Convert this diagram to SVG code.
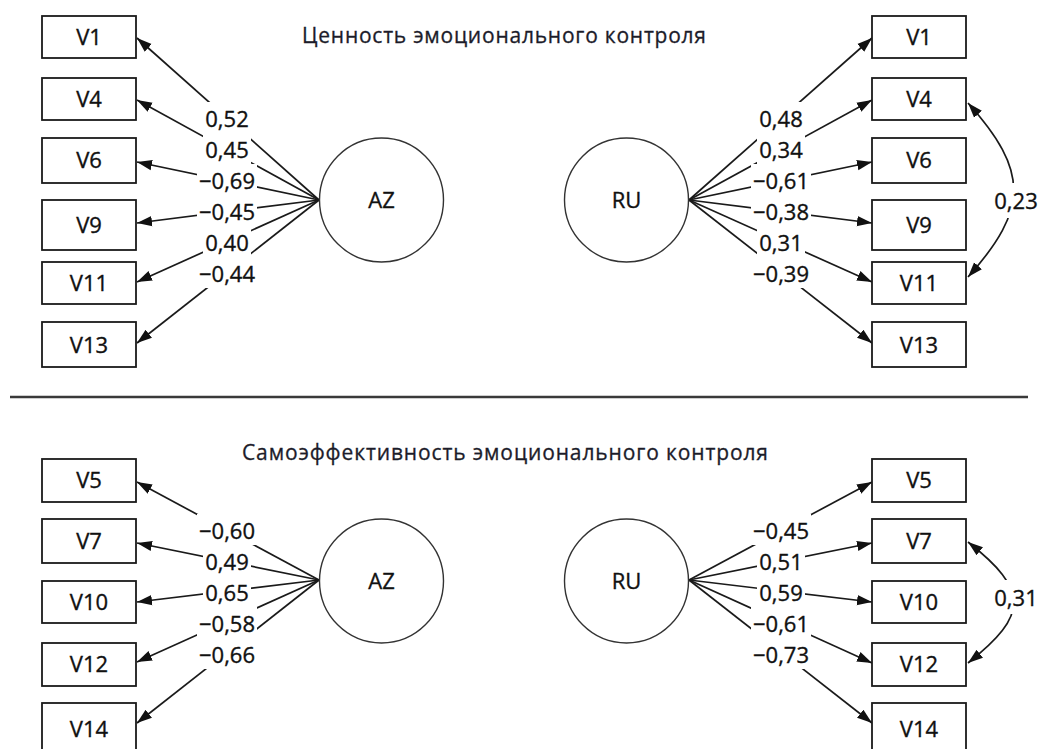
<svg xmlns="http://www.w3.org/2000/svg" width="1041" height="749" viewBox="0 0 1041 749">
<style>
  .box{fill:#fff;stroke:#1a1a1a;stroke-width:1.8}
  .lat{fill:#fff;stroke:#333;stroke-width:1.4}
  .t{font-family:"Open Sans","Noto Sans","Liberation Sans",sans-serif;font-size:22px;fill:#111;stroke:#111;stroke-width:0.35;text-anchor:middle}
  .title{font-family:"Open Sans","Noto Sans","Liberation Sans",sans-serif;font-size:21px;fill:#1c1c2a;stroke:#1c1c2a;stroke-width:0.3;text-anchor:middle}
  .c{stroke:#1a1a1a;stroke-width:1.7;fill:none;marker-end:url(#ah)}
  .cov{stroke:#1a1a1a;stroke-width:1.7;fill:none;marker-end:url(#ah);marker-start:url(#ahs)}
  .bg{fill:#fff}
</style>
<defs>
  <marker id="ah" markerUnits="userSpaceOnUse" markerWidth="16" markerHeight="12" viewBox="0 0 16 12" refX="15" refY="6" orient="auto">
    <path d="M0,0.8 L15,6 L0,11.2 z" fill="#111"/>
  </marker>
  <marker id="ahs" markerUnits="userSpaceOnUse" markerWidth="16" markerHeight="12" viewBox="0 0 16 12" refX="15" refY="6" orient="auto-start-reverse">
    <path d="M0,0.8 L15,6 L0,11.2 z" fill="#111"/>
  </marker>
</defs>
<rect width="1041" height="749" fill="#fff"/>

<text class="title" x="504" y="43" textLength="404" lengthAdjust="spacing">Ценность эмоционального контроля</text>
<text class="title" x="505" y="460" textLength="526" lengthAdjust="spacing">Самоэффективность эмоционального контроля</text>
<line x1="10" y1="397" x2="1028" y2="397" stroke="#3a3a3a" stroke-width="2.5"/>

<g id="connectors">
  <line class="c" x1="319" y1="200" x2="137" y2="38"/>
  <line class="c" x1="319" y1="200" x2="137" y2="100"/>
  <line class="c" x1="319" y1="200" x2="137" y2="162"/>
  <line class="c" x1="319" y1="200" x2="137" y2="223"/>
  <line class="c" x1="319" y1="200" x2="137" y2="282"/>
  <line class="c" x1="319" y1="200" x2="137" y2="343"/>

  <line class="c" x1="689" y1="200" x2="872" y2="38"/>
  <line class="c" x1="689" y1="200" x2="872" y2="100"/>
  <line class="c" x1="689" y1="200" x2="872" y2="162"/>
  <line class="c" x1="689" y1="200" x2="872" y2="223"/>
  <line class="c" x1="689" y1="200" x2="872" y2="282"/>
  <line class="c" x1="689" y1="200" x2="872" y2="343"/>
  <path class="cov" d="M968,103 C1029,171 1029,209 968,277"/>

  <line class="c" x1="319" y1="580" x2="137" y2="482"/>
  <line class="c" x1="319" y1="580" x2="137" y2="543"/>
  <line class="c" x1="319" y1="580" x2="137" y2="602"/>
  <line class="c" x1="319" y1="580" x2="137" y2="662"/>
  <line class="c" x1="319" y1="580" x2="137" y2="723"/>

  <line class="c" x1="689" y1="580" x2="872" y2="482"/>
  <line class="c" x1="689" y1="580" x2="872" y2="543"/>
  <line class="c" x1="689" y1="580" x2="872" y2="602"/>
  <line class="c" x1="689" y1="580" x2="872" y2="663"/>
  <line class="c" x1="689" y1="580" x2="872" y2="723"/>
  <path class="cov" d="M968,542 C1029,590 1029,615 968,663"/>
</g>

<g id="labels">
  <rect class="bg" x="203" y="102" width="48" height="31"/><text class="t" x="227" y="127">0,52</text>
  <rect class="bg" x="203" y="133" width="48" height="31"/><text class="t" x="227" y="158">0,45</text>
  <rect class="bg" x="197" y="164" width="60" height="31"/><text class="t" x="227" y="189">−0,69</text>
  <rect class="bg" x="197" y="195" width="60" height="31"/><text class="t" x="227" y="220">−0,45</text>
  <rect class="bg" x="203" y="226" width="48" height="31"/><text class="t" x="227" y="251">0,40</text>
  <rect class="bg" x="197" y="257" width="60" height="31"/><text class="t" x="227" y="282">−0,44</text>

  <rect class="bg" x="757" y="102" width="48" height="31"/><text class="t" x="781" y="127">0,48</text>
  <rect class="bg" x="757" y="133" width="48" height="31"/><text class="t" x="781" y="158">0,34</text>
  <rect class="bg" x="751" y="164" width="60" height="31"/><text class="t" x="781" y="189">−0,61</text>
  <rect class="bg" x="751" y="195" width="60" height="31"/><text class="t" x="781" y="220">−0,38</text>
  <rect class="bg" x="757" y="226" width="48" height="31"/><text class="t" x="781" y="251">0,31</text>
  <rect class="bg" x="751" y="257" width="60" height="31"/><text class="t" x="781" y="282">−0,39</text>
  <rect class="bg" x="991" y="183" width="50" height="35"/><text class="t" x="1016" y="209">0,23</text>

  <rect class="bg" x="197" y="514" width="60" height="31"/><text class="t" x="227" y="539">−0,60</text>
  <rect class="bg" x="203" y="545" width="48" height="31"/><text class="t" x="227" y="570">0,49</text>
  <rect class="bg" x="203" y="576" width="48" height="31"/><text class="t" x="227" y="601">0,65</text>
  <rect class="bg" x="197" y="607" width="60" height="31"/><text class="t" x="227" y="632">−0,58</text>
  <rect class="bg" x="197" y="638" width="60" height="31"/><text class="t" x="227" y="663">−0,66</text>

  <rect class="bg" x="751" y="514" width="60" height="31"/><text class="t" x="781" y="539">−0,45</text>
  <rect class="bg" x="757" y="545" width="48" height="31"/><text class="t" x="781" y="570">0,51</text>
  <rect class="bg" x="757" y="576" width="48" height="31"/><text class="t" x="781" y="601">0,59</text>
  <rect class="bg" x="751" y="607" width="60" height="31"/><text class="t" x="781" y="632">−0,61</text>
  <rect class="bg" x="751" y="638" width="60" height="31"/><text class="t" x="781" y="663">−0,73</text>
  <rect class="bg" x="991" y="580" width="50" height="34"/><text class="t" x="1016" y="606">0,31</text>
</g>

<g id="AZ1"><circle class="lat" cx="381.5" cy="200" r="62"/><text class="t" x="381.5" y="208">AZ</text></g>
<g id="RU1"><circle class="lat" cx="626.5" cy="200" r="62"/><text class="t" x="626.5" y="208">RU</text></g>
<g id="AZ2"><circle class="lat" cx="381.5" cy="581" r="62"/><text class="t" x="381.5" y="589">AZ</text></g>
<g id="RU2"><circle class="lat" cx="626.5" cy="581" r="62"/><text class="t" x="626.5" y="589">RU</text></g>

<g id="L_V1"><rect class="box" x="42" y="16" width="94" height="42"/><text class="t" x="89" y="45">V1</text></g>
<g id="L_V4"><rect class="box" x="42" y="78" width="94" height="42"/><text class="t" x="89" y="107">V4</text></g>
<g id="L_V6"><rect class="box" x="42" y="138" width="94" height="45"/><text class="t" x="89" y="168">V6</text></g>
<g id="L_V9"><rect class="box" x="42" y="200" width="94" height="50"/><text class="t" x="89" y="233">V9</text></g>
<g id="L_V11"><rect class="box" x="42" y="262" width="94" height="42"/><text class="t" x="89" y="291">V11</text></g>
<g id="L_V13"><rect class="box" x="42" y="322" width="94" height="45"/><text class="t" x="89" y="353">V13</text></g>

<g id="R_V1"><rect class="box" x="872" y="16" width="94" height="42"/><text class="t" x="919" y="45">V1</text></g>
<g id="R_V4"><rect class="box" x="872" y="78" width="94" height="42"/><text class="t" x="919" y="107">V4</text></g>
<g id="R_V6"><rect class="box" x="872" y="138" width="94" height="45"/><text class="t" x="919" y="168">V6</text></g>
<g id="R_V9"><rect class="box" x="872" y="200" width="94" height="50"/><text class="t" x="919" y="233">V9</text></g>
<g id="R_V11"><rect class="box" x="872" y="262" width="94" height="42"/><text class="t" x="919" y="291">V11</text></g>
<g id="R_V13"><rect class="box" x="872" y="322" width="94" height="45"/><text class="t" x="919" y="353">V13</text></g>

<g id="L_V5"><rect class="box" x="42" y="459" width="94" height="43"/><text class="t" x="89" y="488">V5</text></g>
<g id="L_V7"><rect class="box" x="42" y="519" width="94" height="44"/><text class="t" x="89" y="549">V7</text></g>
<g id="L_V10"><rect class="box" x="42" y="581" width="94" height="42"/><text class="t" x="89" y="610">V10</text></g>
<g id="L_V12"><rect class="box" x="42" y="643" width="94" height="43"/><text class="t" x="89" y="672">V12</text></g>
<g id="L_V14"><rect class="box" x="42" y="703" width="94" height="52"/><text class="t" x="89" y="737">V14</text></g>

<g id="R_V5"><rect class="box" x="872" y="459" width="94" height="43"/><text class="t" x="919" y="488">V5</text></g>
<g id="R_V7"><rect class="box" x="872" y="519" width="94" height="44"/><text class="t" x="919" y="549">V7</text></g>
<g id="R_V10"><rect class="box" x="872" y="581" width="94" height="42"/><text class="t" x="919" y="610">V10</text></g>
<g id="R_V12"><rect class="box" x="872" y="643" width="94" height="43"/><text class="t" x="919" y="672">V12</text></g>
<g id="R_V14"><rect class="box" x="872" y="703" width="94" height="52"/><text class="t" x="919" y="737">V14</text></g>
</svg>
